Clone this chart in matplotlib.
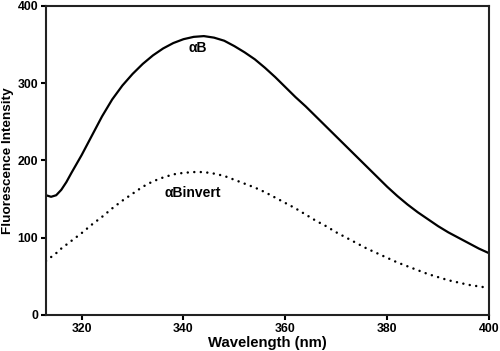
import numpy as np
import matplotlib
matplotlib.use('Agg')
import matplotlib.pyplot as plt

plt.rcParams['font.family'] = ['Liberation Sans', 'DejaVu Sans']
plt.rcParams['font.weight'] = 'bold'

# wavelength (nm) and intensities
wavelength = [313, 314, 315, 316, 317, 318, 320, 322, 324, 326, 328, 330, 332, 334, 336,
              338, 340, 342, 344, 346, 348, 350, 352, 354, 356, 358, 360, 362, 364,
              366, 368, 370, 372, 374, 376, 378, 380, 382, 384, 386, 388, 390, 392,
              394, 396, 398, 400]
alphaB = [155, 153, 155, 162, 172, 184, 207, 232, 257, 279, 297, 312, 325, 336, 345,
          352, 357, 360, 361, 359, 355, 348, 340, 331, 320, 308, 295, 282, 270,
          257, 244, 231, 218, 205, 192, 179, 166, 154, 143, 133, 124, 115, 107,
          100, 93, 86, 80]
alphaBinvert = [70, 75, 80, 86, 91, 96, 106, 117, 127, 138, 148, 157, 166, 173, 178,
                182, 184, 185, 185, 183, 180, 175, 170, 165, 159, 152, 145, 138, 130,
                122, 115, 107, 100, 93, 86, 80, 74, 68, 63, 58, 53, 49, 45,
                42, 39, 37, 35]

fig = plt.figure(figsize=(5.0, 3.51), dpi=100)
ax = fig.add_axes([0.092, 0.1026, 0.886, 0.8804])

ax.plot(wavelength, alphaB, color='black', lw=1.6, solid_capstyle='round')
ax.plot(wavelength, alphaBinvert, color='black', lw=1.8,
        linestyle=(0, (0.01, 2.6)), dash_capstyle='round')

ax.text(342.8, 346, 'αB', ha='center', va='center', fontsize=10, fontweight='bold')
ax.text(341.8, 158, 'αBinvert', ha='center', va='center', fontsize=10, fontweight='bold')

ax.set_xlim(313, 400)
ax.set_ylim(0, 400)
ax.set_xticks([320, 340, 360, 380, 400])
ax.set_yticks([0, 100, 200, 300, 400])
ax.set_xlabel('Wavelength (nm)', fontsize=10.7, fontweight='bold', labelpad=1)
ax.set_ylabel('Fluorescence Intensity', fontsize=9.7, fontweight='bold', labelpad=3)

for s in ax.spines.values():
    s.set_linewidth(1.5)
    s.set_color('#222222')
ax.tick_params(direction='out', length=3.5, width=1.5, labelsize=8.8, pad=2)

fig.savefig('out.png', dpi=100)
